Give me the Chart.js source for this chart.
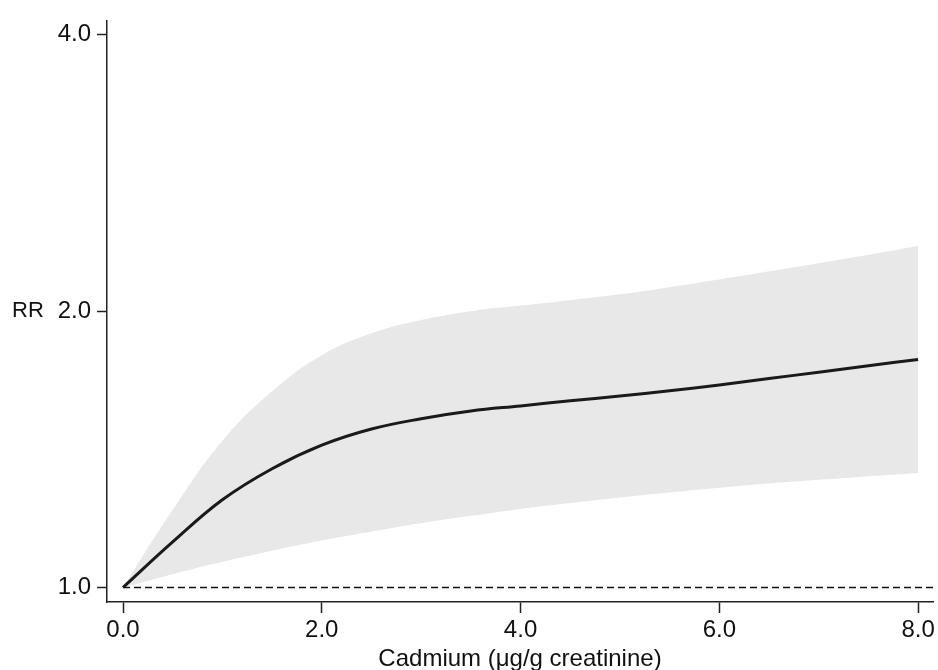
<!DOCTYPE html>
<html>
<head>
<meta charset="utf-8">
<script src="https://cdn.jsdelivr.net/npm/chart.js@4/dist/chart.umd.min.js"></script>
<style>
  body { margin: 0; background: #fff; }
  canvas { display: block; }
</style>
</head>
<body>
<canvas id="rrChart" width="938" height="670"></canvas>
<script>
// Values (RR on a log axis), every 0.5 µg/g
const cadmium = [0, 0.5, 1, 1.5, 2, 2.5, 3, 3.5, 4, 4.5, 5, 5.5, 6, 6.5, 7, 7.5, 8];
const rrEstimate = [1.0, 1.121, 1.246, 1.347, 1.429, 1.488, 1.527, 1.557, 1.577, 1.597, 1.617, 1.638, 1.662, 1.689, 1.716, 1.744, 1.772];
const rrUpper = [1.0, 1.215, 1.445, 1.636, 1.791, 1.892, 1.956, 2.0, 2.028, 2.056, 2.086, 2.124, 2.165, 2.21, 2.256, 2.304, 2.355];
const rrLower = [1.0, 1.034, 1.0665, 1.0966, 1.125, 1.151, 1.175, 1.197, 1.218, 1.236, 1.2535, 1.269, 1.284, 1.298, 1.31, 1.322, 1.333];

const xTicks = [0, 2, 4, 6, 8];
const yTicks = [1, 2, 4];
const xMin = -0.161, xMax = 8.15;
const yMin = 0.9643, yMax = 4.147;
const refLine = 1.0;

const xTitle = 'Cadmium (μg/g creatinine)';
const yTitle = 'RR';

const FONT = 'Liberation Sans, Arial, Helvetica, sans-serif';
const INK = '#111';
const AXIS = '#222';

const toPoints = (ys) => cadmium.map((x, i) => ({ x: x, y: ys[i] }));

// axis titles drawn by hand: "RR" is horizontal, left of the axis
const axisTitles = {
  id: 'axisTitles',
  afterDraw(chart) {
    const { ctx, chartArea } = chart;
    ctx.save();
    ctx.fillStyle = INK;
    ctx.textAlign = 'center';
    ctx.textBaseline = 'middle';
    ctx.font = '22px ' + FONT;
    ctx.fillText(yTitle, 28, (chartArea.top + chartArea.bottom) / 2);
    ctx.font = '24px ' + FONT;
    ctx.fillText(xTitle, (chartArea.left + chartArea.right) / 2, chartArea.bottom + 57);
    ctx.restore();
  }
};

new Chart(document.getElementById('rrChart').getContext('2d'), {
  type: 'line',
  data: {
    datasets: [
      {
        label: 'RR',
        data: toPoints(rrEstimate),
        borderColor: '#1a1a1a',
        borderWidth: 3,
        pointRadius: 0,
        tension: 0.4,
        fill: false,
        order: 0
      },
      {
        label: 'reference',
        data: [{ x: 0, y: refLine }, { x: xMax, y: refLine }],
        borderColor: '#111',
        borderWidth: 1.6,
        borderDash: [7, 4],
        pointRadius: 0,
        fill: false,
        order: 1
      },
      {
        label: 'upper',
        data: toPoints(rrUpper),
        borderWidth: 0,
        borderColor: 'rgba(0,0,0,0)',
        backgroundColor: '#e8e8e8',
        pointRadius: 0,
        tension: 0.4,
        fill: '+1',
        order: 2
      },
      {
        label: 'lower',
        data: toPoints(rrLower),
        borderWidth: 0,
        borderColor: 'rgba(0,0,0,0)',
        pointRadius: 0,
        tension: 0.4,
        fill: false,
        order: 3
      }
    ]
  },
  options: {
    responsive: false,
    animation: false,
    layout: { padding: { top: 12, right: 5, left: 0, bottom: 0 } },
    plugins: {
      legend: { display: false },
      tooltip: { enabled: false }
    },
    scales: {
      x: {
        type: 'linear',
        min: xMin,
        max: xMax,
        afterBuildTicks: (scale) => { scale.ticks = xTicks.map(v => ({ value: v })); },
        afterFit: (scale) => { scale.height = 68; },
        grid: {
          drawOnChartArea: false,
          drawTicks: true,
          tickLength: 11,
          tickColor: AXIS,
          tickWidth: 1.5
        },
        border: { display: true, color: AXIS, width: 1.5 },
        ticks: {
          color: INK,
          padding: 3,
          maxRotation: 0,
          font: { family: FONT, size: 24 },
          callback: (v) => Number(v).toFixed(1)
        }
      },
      y: {
        type: 'logarithmic',
        min: yMin,
        max: yMax,
        afterBuildTicks: (scale) => { scale.ticks = yTicks.map(v => ({ value: v })); },
        afterFit: (scale) => { scale.width = 107; },
        grid: {
          drawOnChartArea: false,
          drawTicks: true,
          tickLength: 10,
          tickColor: AXIS,
          tickWidth: 1.5
        },
        border: { display: true, color: AXIS, width: 1.5 },
        ticks: {
          color: INK,
          padding: 6,
          font: { family: FONT, size: 24 },
          callback: (v) => Number(v).toFixed(1)
        }
      }
    }
  },
  plugins: [axisTitles]
});
</script>
</body>
</html>
